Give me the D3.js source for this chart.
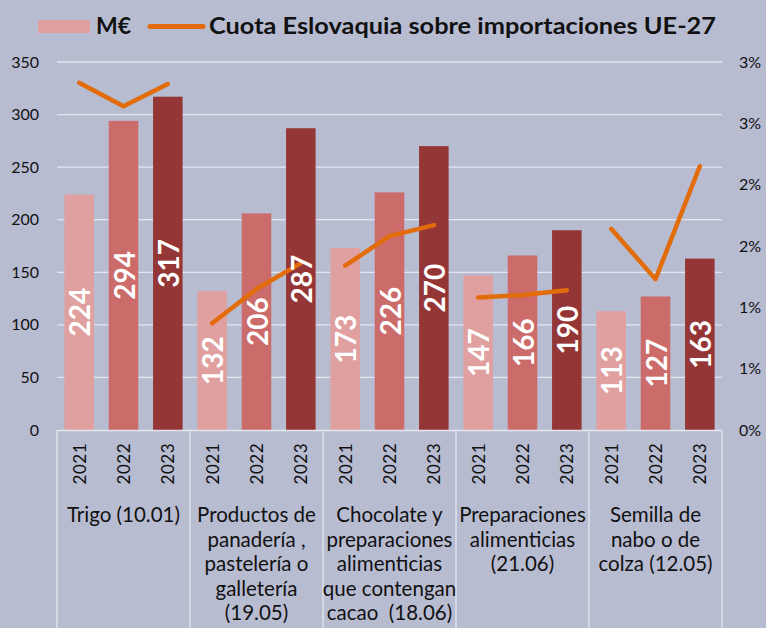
<!DOCTYPE html>
<html>
<head>
<meta charset="utf-8">
<script src="https://cdn.jsdelivr.net/npm/d3@7"></script>
<style>
  html, body { margin: 0; padding: 0; background: #b8bcd1; }
  svg { display: block; font-family: Lato, "Open Sans", sans-serif; }
</style>
</head>
<body>
<div id="chart"></div>
<script>
const years = ['2021', '2022', '2023'];
const categoryLines = [
  ['Trigo (10.01)'],
  ['Productos de', 'panadería ,', 'pastelería o', 'galletería', '(19.05)'],
  ['Chocolate y', 'preparaciones', 'alimenticias', 'que contengan', 'cacao  (18.06)'],
  ['Preparaciones', 'alimenticias', '(21.06)'],
  ['Semilla de', 'nabo o de', 'colza (12.05)']
];
const mEur2021 = [224, 132, 173, 147, 113];
const mEur2022 = [294, 206, 226, 166, 127];
const mEur2023 = [317, 287, 270, 190, 163];
const cuota2021 = [2.83, 0.87, 1.34, 1.08, 1.64];
const cuota2022 = [2.64, 1.15, 1.58, 1.10, 1.23];
const cuota2023 = [2.82, 1.36, 1.67, 1.14, 2.15];
const leftTicks = [0, 50, 100, 150, 200, 250, 300, 350];
const rightTicks = [0, 0.5, 1, 1.5, 2, 2.5, 3];
const rightTickLabels = ['0%', '1%', '1%', '2%', '2%', '3%', '3%'];

const width = 766, height = 628;
const margin = { left: 57, right: 44, top: 62, bottom: 198 };
const yearColors = ['#e0a0a0', '#cb6b6a', '#953636'];
const lineColor = '#e36c0a';
const gridColor = '#e4e6ef';

const svg = d3.select('#chart').append('svg')
  .attr('width', width)
  .attr('height', height);

svg.append('rect').attr('width', width).attr('height', height).attr('fill', '#b8bcd1');

const x0 = margin.left, x1 = width - margin.right;
const yBottom = height - margin.bottom, yTop = margin.top;

// one band per (category, year)
const keys = [];
categoryLines.forEach((c, ci) => years.forEach((yr, yi) => keys.push(ci + '-' + yi)));

const x = d3.scaleBand().domain(keys).range([x0, x1]).paddingInner(1 / 3).paddingOuter(1 / 6);
const y = d3.scaleLinear().domain([0, 350]).range([yBottom, yTop]);
const yPct = d3.scaleLinear().domain([0, 3]).range([yBottom, yTop]);

const groupW = (x1 - x0) / categoryLines.length;

// gridlines
svg.append('g')
  .selectAll('line')
  .data(leftTicks.slice(1))
  .join('line')
  .attr('x1', x0).attr('x2', x1)
  .attr('y1', d => y(d)).attr('y2', d => y(d))
  .attr('stroke', gridColor).attr('stroke-width', 1.3);

// left axis
const yAxis = d3.axisLeft(y).tickValues(leftTicks).tickSize(0).tickPadding(18);
svg.append('g')
  .attr('transform', `translate(${x0},0)`)
  .call(yAxis)
  .call(g => g.select('.domain').remove())
  .call(g => g.selectAll('text').attr('font-size', 16).attr('fill', '#111').attr('font-family', 'Lato, sans-serif'));

// right axis
const yAxisR = d3.axisRight(yPct).tickValues(rightTicks).tickFormat((d, i) => rightTickLabels[i]).tickSize(0).tickPadding(17);
svg.append('g')
  .attr('transform', `translate(${x1},0)`)
  .call(yAxisR)
  .call(g => g.select('.domain').remove())
  .call(g => g.selectAll('text').attr('font-size', 16).attr('fill', '#111').attr('font-family', 'Lato, sans-serif'));

// bars
const barData = [];
const series = [mEur2021, mEur2022, mEur2023];
categoryLines.forEach((c, ci) => years.forEach((yr, yi) => {
  barData.push({ key: ci + '-' + yi, yi, value: series[yi][ci] });
}));

svg.append('g')
  .selectAll('rect')
  .data(barData)
  .join('rect')
  .attr('x', d => x(d.key))
  .attr('width', x.bandwidth())
  .attr('y', d => y(d.value))
  .attr('height', d => yBottom - y(d.value))
  .attr('fill', d => yearColors[d.yi]);

// x axis line and group separators
svg.append('line')
  .attr('x1', x0).attr('x2', x1).attr('y1', yBottom + 0.5).attr('y2', yBottom + 0.5)
  .attr('stroke', gridColor).attr('stroke-width', 1.3);
svg.append('g')
  .selectAll('line')
  .data(d3.range(categoryLines.length + 1))
  .join('line')
  .attr('x1', i => x0 + i * groupW).attr('x2', i => x0 + i * groupW)
  .attr('y1', yBottom).attr('y2', height)
  .attr('stroke', gridColor).attr('stroke-width', 1.3);

// year labels
svg.append('g')
  .selectAll('text')
  .data(barData)
  .join('text')
  .attr('transform', d => `translate(${x(d.key) + x.bandwidth() / 2},443) rotate(-90)`)
  .attr('text-anchor', 'end')
  .attr('dominant-baseline', 'central')
  .attr('font-size', 17)
  .attr('fill', '#111')
  .attr('letter-spacing', 0.5)
  .text(d => years[d.yi]);

// category labels
const catG = svg.append('g');
categoryLines.forEach((lines, ci) => {
  const t = catG.append('text')
    .attr('x', x0 + (ci + 0.5) * groupW)
    .attr('y', 522)
    .attr('text-anchor', 'middle')
    .attr('font-size', 20.5)
    .attr('fill', '#111');
  lines.forEach((ln, li) => {
    t.append('tspan')
      .attr('x', x0 + (ci + 0.5) * groupW)
      .attr('dy', li === 0 ? 0 : 24.5)
      .attr('xml:space', 'preserve')
      .text(ln);
  });
});

// line segments (one per category)
const cuotas = [cuota2021, cuota2022, cuota2023];
const line = d3.line().x(d => d[0]).y(d => d[1]);
categoryLines.forEach((c, ci) => {
  const pts = years.map((yr, yi) => [x(ci + '-' + yi) + x.bandwidth() / 2, yPct(cuotas[yi][ci])]);
  svg.append('path')
    .attr('d', line(pts))
    .attr('fill', 'none')
    .attr('stroke', lineColor)
    .attr('stroke-width', 4.5)
    .attr('stroke-linecap', 'round')
    .attr('stroke-linejoin', 'round');
});

// value labels inside bars
svg.append('g')
  .selectAll('text')
  .data(barData)
  .join('text')
  .attr('transform', d => `translate(${x(d.key) + x.bandwidth() / 2},${(y(d.value) + yBottom) / 2}) rotate(-90)`)
  .attr('text-anchor', 'middle')
  .attr('dominant-baseline', 'central')
  .attr('font-size', 28)
  .attr('font-weight', 'bold')
  .attr('fill', '#fff')
  .text(d => d.value);

// legend
const leg = svg.append('g');
leg.append('rect').attr('x', 38).attr('y', 20).attr('width', 52).attr('height', 13).attr('fill', yearColors[0]);
leg.append('text').attr('x', 96).attr('y', 34).attr('font-size', 23).attr('font-weight', 'bold').attr('fill', '#111').text('M€');
leg.append('line').attr('x1', 150).attr('x2', 203).attr('y1', 26.5).attr('y2', 26.5)
  .attr('stroke', lineColor).attr('stroke-width', 5).attr('stroke-linecap', 'round');
leg.append('text').attr('x', 209).attr('y', 34).attr('font-size', 23).attr('font-weight', 'bold').attr('fill', '#111')
  .attr('textLength', 507).attr('lengthAdjust', 'spacingAndGlyphs')
  .text('Cuota Eslovaquia sobre importaciones UE-27');
</script>
</body>
</html>
